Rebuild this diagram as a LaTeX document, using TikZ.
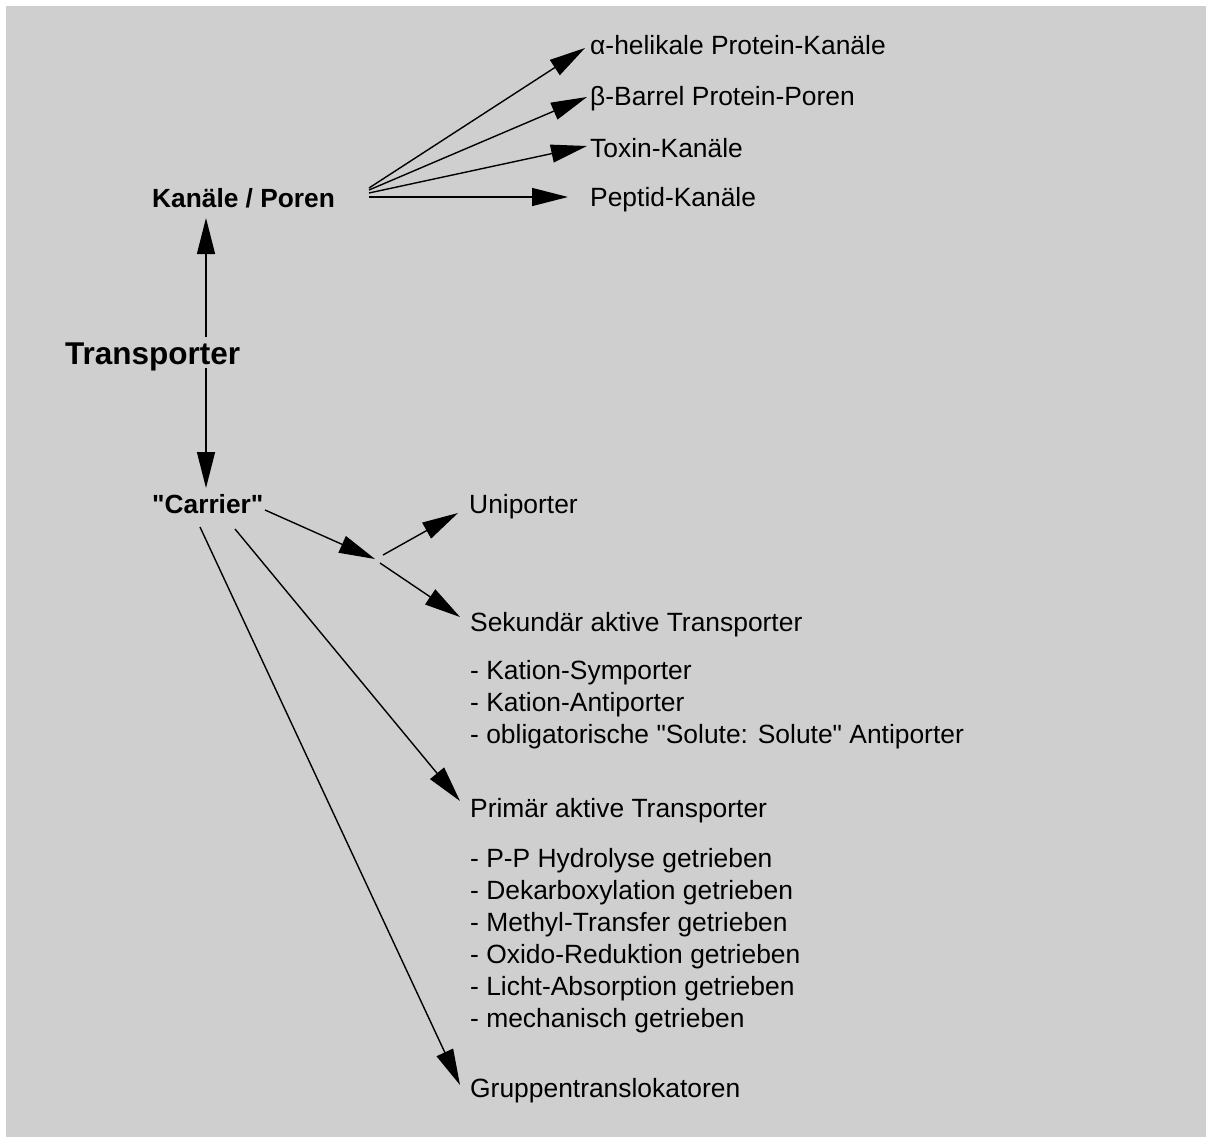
\documentclass[tikz,border=0pt]{standalone}
\usepackage{fontspec}
\setmainfont{Liberation Sans}[Ligatures=TeXOff]
\usetikzlibrary{arrows.meta}
\definecolor{bgc}{RGB}{207,207,207}
\begin{document}
\begin{tikzpicture}[x=1pt,y=-1pt,
  lbl/.style={anchor=base west,inner sep=0pt,font=\fontsize{26.4}{32}\selectfont},
  blbl/.style={anchor=base west,inner sep=0pt,font=\fontsize{26.3}{32}\selectfont\bfseries},
  conn/.style={line width=1.4pt,-{Triangle[length=36pt,width=18pt]}}]
\useasboundingbox (0,0) rectangle (1206,1137);
\fill[bgc] (6,6) rectangle (1206,1137);
% main labels
\node[anchor=base west,inner sep=0pt,font=\fontsize{31.5}{36}\selectfont\bfseries] (tr) at (65,364) {Transporter};
\node[blbl] (kan) at (152,207) {Kanäle / Poren};
\node[blbl] (car) at (152,513) {"Carrier"};
% channel types
\node[lbl] (alpha) at (590,55) {α-helikale Protein-Kanäle};
\node[lbl] (beta) at (590,106) {β-Barrel Protein-Poren};
\node[lbl] (tox) at (590,157) {Toxin-Kanäle};
\node[lbl] (pep) at (590,206) {Peptid-Kanäle};
% carrier types
\node[lbl] (uni) at (469,513) {Uniporter};
\node[lbl] (sek) at (470,631) {Sekundär aktive Transporter};
\node[lbl] (s1) at (470,679) {- Kation-Symporter};
\node[lbl] (s2) at (470,711) {- Kation-Antiporter};
\node[lbl] (s3) at (470,743) {- obligatorische "Solute: Solute" Antiporter};
\node[lbl] (pri) at (470,817) {Primär aktive Transporter};
\node[lbl] (p1) at (470,867) {- P-P Hydrolyse getrieben};
\node[lbl] (p2) at (470,899) {- Dekarboxylation getrieben};
\node[lbl] (p3) at (470,931) {- Methyl-Transfer getrieben};
\node[lbl] (p4) at (470,963) {- Oxido-Reduktion getrieben};
\node[lbl] (p5) at (470,995) {- Licht-Absorption getrieben};
\node[lbl] (p6) at (470,1027) {- mechanisch getrieben};
\node[lbl] (gru) at (470,1097) {Gruppentranslokatoren};
% connector points
\coordinate (trup) at (206,337);
\coordinate (trdn) at (206,368);
\coordinate (kanup) at (206,218);
\coordinate (cardn) at (206,488);
\coordinate (kf1) at (369,188);
\coordinate (kf2) at (369,190);
\coordinate (kf3) at (369,193);
\coordinate (kf4) at (369,197);
\coordinate (alphat) at (585,48);
\coordinate (betat) at (587,97);
\coordinate (toxt) at (587,146);
\coordinate (pept) at (568,197);
\coordinate (car1) at (265,510);
\coordinate (br) at (375,559);
\coordinate (bru) at (383,555);
\coordinate (brs) at (380,563);
\coordinate (unit) at (458,513);
\coordinate (sekt) at (460,617);
\coordinate (car2) at (235,529);
\coordinate (prit) at (460,801);
\coordinate (car3) at (200,527);
\coordinate (grut) at (460,1085);
% connectors
\draw[conn] (trup) -- (kanup);
\draw[conn] (trdn) -- (cardn);
\draw[conn] (kf1) -- (alphat);
\draw[conn] (kf2) -- (betat);
\draw[conn] (kf3) -- (toxt);
\draw[conn] (kf4) -- (pept);
\draw[conn] (car1) -- (br);
\draw[conn] (bru) -- (unit);
\draw[conn] (brs) -- (sekt);
\draw[conn] (car2) -- (prit);
\draw[conn] (car3) -- (grut);
\end{tikzpicture}
\end{document}
